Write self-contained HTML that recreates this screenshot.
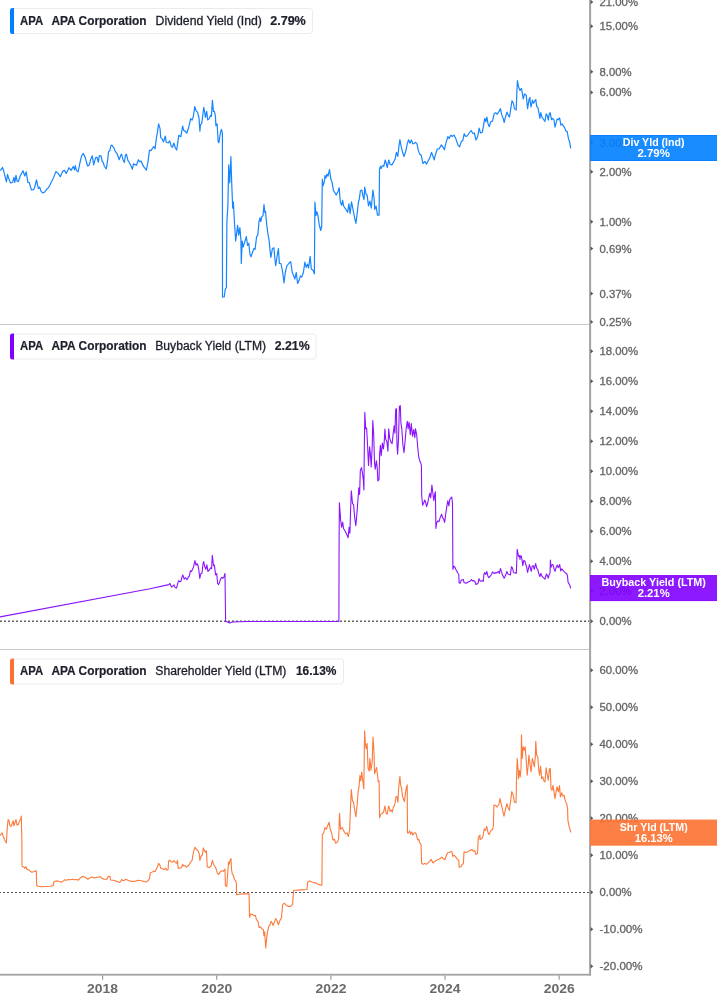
<!DOCTYPE html>
<html lang="en"><head><meta charset="utf-8"><title>APA Corporation yields</title>
<style>
html,body{margin:0;padding:0;background:#fff}
body{width:717px;height:1005px;overflow:hidden}
svg{display:block}
text{font-family:"Liberation Sans",Arial,sans-serif}
.ax{font-size:11px;fill:#666;stroke:#666;stroke-width:.32px}
.yr{font-size:12px;font-weight:bold;fill:#6b6b6b;text-anchor:middle}
.lg{font-size:12px;fill:#1d1f2b}
.m{stroke:#1d1f2b;stroke-width:.3px}
.b{font-weight:bold;stroke:#1d1f2b;stroke-width:.2px}
.tg{font-size:10px;font-weight:bold;fill:#fff;text-anchor:middle}
</style></head><body>
<svg width="717" height="1005" viewBox="0 0 717 1005">
<rect width="717" height="1005" fill="#fff"/>

<rect x="0" y="324" width="589" height="1" fill="#c9c9c9"/>
<rect x="0" y="649" width="589" height="1" fill="#c9c9c9"/>
<line x1="0" y1="621.2" x2="589" y2="621.2" stroke="#606060" stroke-width="1.4" stroke-dasharray="2 2"/>
<line x1="0" y1="892.5" x2="589" y2="892.5" stroke="#505050" stroke-width="1.1" stroke-dasharray="2 2" stroke-dashoffset="1"/>
<path d="M0.0,170.4 L1.1,169.7 L2.5,167.4 L3.9,171.8 L5.3,177.4 L6.4,181.9 L7.5,174.4 L8.6,178.1 L10.5,183.0 L12.6,182.3 L13.9,177.4 L14.8,182.3 L16.0,175.3 L17.0,180.9 L18.4,181.6 L20.2,176.0 L23.0,170.7 L24.8,176.0 L26.2,171.8 L27.9,182.3 L29.3,182.7 L31.4,190.0 L33.5,189.7 L34.9,186.5 L36.5,179.9 L38.4,188.6 L39.7,187.2 L41.1,191.4 L43.0,193.0 L44.6,192.1 L46.7,189.3 L48.8,187.2 L50.9,183.0 L53.7,177.4 L55.8,171.6 L57.9,173.2 L60.3,176.7 L62.8,171.1 L64.4,170.4 L66.2,173.5 L69.0,167.7 L71.1,170.4 L73.2,166.5 L74.6,169.7 L75.3,165.6 L76.4,170.4 L78.1,171.8 L79.8,163.5 L81.6,155.8 L83.4,153.4 L85.1,157.2 L87.6,166.0 L89.3,164.9 L90.7,159.3 L92.3,155.8 L93.7,164.9 L95.5,157.9 L96.9,157.2 L98.3,162.1 L99.3,155.8 L100.0,155.6 L101.1,156.2 L102.1,161.1 L103.5,163.2 L104.2,166.0 L106.3,168.8 L107.7,159.7 L108.6,151.4 L109.8,150.7 L110.9,145.8 L111.9,145.1 L113.9,147.9 L115.3,151.4 L117.4,154.2 L119.2,159.7 L120.9,154.9 L121.6,154.2 L123.0,159.7 L124.4,162.5 L125.5,154.9 L126.5,154.4 L127.9,160.4 L129.3,162.5 L131.0,166.0 L132.4,169.2 L133.5,163.9 L135.1,164.6 L136.5,165.3 L138.4,159.7 L139.7,161.8 L141.1,161.1 L143.2,166.0 L144.9,168.1 L146.4,170.2 L148.1,161.1 L149.5,150.0 L150.9,150.7 L152.3,148.6 L153.7,146.5 L155.1,148.6 L156.5,137.4 L157.5,131.8 L158.6,123.8 L160.0,128.4 L160.7,137.4 L162.1,138.8 L163.5,141.9 L165.3,136.0 L166.2,142.3 L168.3,143.0 L169.7,140.9 L171.4,146.5 L172.5,147.2 L173.9,143.0 L175.3,147.9 L176.7,150.0 L178.1,140.2 L178.8,135.3 L180.9,136.7 L182.6,126.0 L183.7,130.4 L185.1,131.1 L186.8,133.2 L188.6,127.7 L190.7,118.6 L192.1,120.0 L193.2,117.2 L194.8,106.7 L196.2,110.9 L197.6,112.3 L199.0,117.9 L199.9,131.1 L200.5,124.8 L201.8,123.3 L202.8,114.9 L203.8,107.4 L204.8,112.9 L205.4,117.4 L206.7,111.4 L207.7,119.9 L208.9,118.9 L209.9,116.9 L210.7,115.4 L211.4,116.4 L212.4,100.4 L213.4,111.4 L214.4,111.4 L215.4,115.9 L215.9,125.8 L217.1,123.8 L218.1,141.2 L218.9,142.7 L220.4,132.8 L221.4,129.3 L222.4,132.8 L222.5,297.0 L224.2,297.0 L225.2,289.6 L226.4,287.3 L226.9,221.6 L227.9,205.2 L228.7,164.9 L229.7,182.8 L230.9,156.7 L231.6,179.9 L232.7,208.2 L233.4,202.2 L234.6,224.6 L235.7,241.0 L236.6,233.6 L237.6,225.4 L238.7,235.1 L239.9,227.6 L240.9,239.6 L241.3,263.4 L242.2,241.0 L243.1,247.0 L244.6,242.5 L246.3,236.6 L247.6,245.5 L248.8,243.3 L250.0,254.5 L251.0,256.7 L252.5,252.2 L254.0,248.5 L255.1,249.3 L256.6,236.6 L257.8,235.1 L259.0,221.6 L260.0,217.9 L260.7,221.6 L261.9,216.4 L263.0,215.7 L264.0,204.5 L264.9,212.7 L265.5,211.2 L266.7,224.6 L267.9,233.6 L269.0,239.6 L270.0,250.0 L270.9,257.5 L272.4,248.5 L273.9,247.8 L274.9,259.0 L275.7,265.7 L276.9,257.5 L278.4,248.5 L279.4,263.4 L281.0,263.5 L282.7,272.5 L284.0,282.9 L285.3,272.5 L286.8,266.1 L288.8,263.5 L290.7,261.6 L292.3,272.5 L293.9,276.4 L294.8,279.0 L296.3,272.5 L297.6,283.5 L299.1,280.3 L300.4,275.8 L301.7,277.1 L303.4,272.5 L304.9,262.2 L306.2,267.4 L307.5,264.1 L308.6,268.0 L310.1,256.4 L311.4,269.3 L312.9,270.0 L314.4,273.8 L314.9,202.0 L315.9,215.6 L316.8,211.7 L317.9,215.0 L319.2,224.7 L320.7,230.5 L321.7,226.0 L322.3,179.4 L323.0,185.9 L324.3,182.0 L325.0,175.5 L325.9,178.1 L326.9,174.2 L328.0,176.2 L329.5,169.7 L330.8,178.8 L332.1,182.6 L333.4,190.4 L334.7,192.3 L336.2,194.9 L337.9,191.7 L339.2,187.8 L340.0,198.8 L340.6,202.5 L341.7,205.3 L342.7,200.4 L343.6,206.0 L345.5,208.8 L347.6,212.3 L348.9,203.9 L350.1,213.7 L351.5,201.8 L352.9,208.8 L354.5,217.2 L355.9,223.4 L357.3,212.3 L358.4,202.5 L359.4,198.3 L360.4,190.7 L361.8,190.0 L362.9,195.6 L364.0,199.7 L364.7,187.2 L366.0,194.2 L367.1,194.9 L368.5,206.0 L369.9,201.1 L371.3,208.1 L372.9,190.0 L374.1,198.3 L374.7,209.5 L376.1,206.0 L377.5,215.1 L379.1,215.1 L379.5,170.4 L380.3,166.3 L381.3,168.4 L382.4,165.6 L383.8,166.3 L385.2,160.0 L386.3,163.5 L387.3,167.7 L388.7,160.0 L390.1,164.2 L391.9,164.9 L393.6,162.1 L395.0,159.3 L396.4,152.3 L397.8,156.5 L398.9,146.7 L399.9,139.5 L401.2,146.7 L402.6,152.3 L404.0,156.5 L405.9,150.9 L407.2,143.9 L408.6,139.8 L410.0,143.2 L411.4,140.0 L412.8,143.9 L414.2,143.2 L415.6,142.3 L417.0,143.9 L418.4,150.9 L419.8,154.4 L421.2,155.1 L422.9,163.5 L425.0,161.4 L426.4,164.2 L428.2,160.7 L429.8,157.9 L431.5,152.3 L433.3,157.2 L434.3,160.0 L435.0,155.8 L435.3,155.3 L437.3,149.0 L439.1,149.0 L441.2,144.9 L442.8,146.9 L444.4,149.7 L446.0,142.8 L447.9,136.5 L449.2,138.6 L450.9,135.1 L452.3,136.5 L454.0,135.1 L455.8,138.6 L457.9,144.9 L459.6,146.9 L461.4,141.4 L462.8,140.7 L464.2,133.7 L465.6,136.5 L467.4,135.8 L469.1,133.0 L471.1,130.5 L473.0,133.7 L474.4,133.0 L476.0,140.0 L477.7,136.5 L479.1,128.1 L480.5,133.0 L482.3,132.3 L483.7,124.6 L484.7,118.4 L485.8,121.8 L486.9,117.0 L487.9,123.2 L489.3,126.7 L490.7,121.8 L492.5,121.1 L494.2,113.5 L495.6,112.8 L497.2,114.2 L499.0,111.4 L500.4,108.6 L501.8,114.9 L503.2,118.4 L504.2,122.5 L505.3,117.7 L507.0,112.1 L508.4,115.6 L509.5,117.0 L510.9,107.9 L512.0,100.9 L513.4,103.0 L514.4,108.6 L516.2,110.0 L516.8,93.9 L517.4,80.7 L518.6,87.0 L520.0,90.5 L521.4,88.4 L522.3,93.2 L523.2,98.8 L524.6,93.9 L526.2,95.3 L527.6,108.6 L529.0,99.5 L530.0,97.4 L530.1,101.4 L531.1,107.0 L532.4,100.1 L533.6,103.3 L534.5,101.4 L535.8,99.5 L536.7,106.4 L537.9,107.7 L538.9,112.7 L539.9,118.3 L540.8,112.7 L542.0,117.1 L543.3,119.0 L544.9,121.5 L546.2,113.9 L547.4,115.8 L548.3,120.2 L549.3,113.9 L550.2,112.7 L551.5,119.6 L552.7,118.3 L554.0,120.2 L555.0,127.1 L556.2,122.7 L557.1,119.0 L558.4,119.6 L559.6,117.9 L560.9,125.2 L562.1,124.0 L563.4,125.9 L564.6,127.7 L565.9,130.9 L567.2,131.5 L568.4,138.4 L569.7,142.2 L570.7,148.4" fill="none" stroke="#1785ff" stroke-width="1.2" stroke-linejoin="round"/>
<path d="M0.0,616.9 L150.0,588.8 L168.8,584.6 L169.9,583.5 L171.6,587.1 L173.0,586.0 L174.0,584.9 L175.1,587.4 L176.5,588.1 L177.6,583.9 L178.6,580.7 L180.0,581.8 L181.0,581.1 L181.8,577.7 L182.8,574.9 L184.2,579.1 L185.6,577.7 L187.0,579.7 L188.4,577.0 L189.3,576.3 L190.4,570.7 L191.6,571.4 L192.5,569.3 L193.5,567.2 L194.9,560.6 L196.0,565.1 L197.1,563.7 L198.1,565.8 L199.1,572.1 L199.8,578.4 L200.9,573.5 L202.0,573.2 L203.0,563.7 L203.7,561.6 L204.7,566.5 L205.8,569.3 L206.9,564.8 L207.9,571.4 L209.3,570.0 L210.7,567.9 L211.6,568.6 L212.3,555.3 L213.5,565.8 L214.4,565.1 L215.6,574.9 L216.7,573.5 L217.6,583.2 L218.6,584.6 L219.7,581.8 L220.9,578.4 L221.8,577.4 L222.8,578.4 L223.9,577.0 L225.0,573.5 L225.6,621.2 L227.4,622.0 L229.8,623.1 L232.3,622.0 L239.3,621.7 L250.0,621.5 L338.9,621.5 L339.1,540.0 L339.4,502.7 L340.6,519.9 L341.6,527.3 L342.7,522.1 L343.6,528.8 L345.1,531.0 L346.6,534.0 L348.1,537.8 L349.1,527.3 L349.9,533.3 L350.6,509.4 L351.3,490.7 L352.5,503.4 L353.6,504.9 L354.6,516.9 L355.8,525.8 L357.0,512.4 L358.1,497.5 L358.8,487.8 L359.6,494.5 L360.3,470.6 L361.5,467.6 L362.5,473.6 L363.3,479.6 L363.9,490.0 L364.3,449.7 L364.8,412.4 L365.7,428.8 L366.6,428.1 L367.5,443.7 L368.5,465.4 L369.6,446.7 L370.4,454.2 L371.2,466.9 L372.2,446.7 L372.8,420.6 L373.7,434.8 L374.5,461.6 L375.2,469.1 L376.4,460.9 L377.2,467.6 L377.9,481.0 L379.0,479.6 L379.7,452.7 L380.4,445.2 L381.2,455.7 L382.4,443.0 L383.4,449.0 L384.2,442.2 L384.9,429.1 L385.7,439.3 L386.9,441.5 L387.9,451.2 L388.7,428.8 L389.6,437.8 L390.9,442.2 L392.1,443.7 L393.1,434.0 L394.2,425.8 L394.9,433.3 L395.7,409.4 L396.4,408.7 L397.0,445.2 L397.6,454.2 L398.5,439.3 L399.4,406.4 L400.3,405.7 L400.9,422.8 L401.8,428.8 L402.8,443.7 L404.0,452.7 L405.1,440.7 L406.3,427.3 L407.3,421.3 L408.1,428.8 L409.1,422.1 L410.3,434.8 L411.3,423.6 L412.5,436.3 L413.7,429.6 L414.8,437.8 L415.5,428.8 L416.7,434.8 L417.8,448.2 L418.8,457.2 L420.0,461.6 L420.7,462.7 L421.4,465.7 L421.7,495.5 L422.6,505.2 L423.7,503.0 L424.7,500.0 L425.6,502.2 L426.6,506.7 L427.7,503.0 L428.9,497.0 L429.8,493.3 L430.7,497.8 L431.9,485.1 L432.8,492.5 L433.8,500.7 L434.9,493.3 L435.4,491.8 L435.9,528.4 L436.6,523.1 L437.8,520.9 L439.0,521.6 L440.1,517.9 L441.6,514.2 L442.6,517.9 L443.5,518.7 L444.6,522.4 L445.6,514.9 L446.8,506.7 L447.8,500.7 L448.9,506.0 L449.8,499.3 L451.0,497.8 L451.7,497.0 L452.5,503.0 L452.9,569.3 L453.9,566.2 L454.9,567.2 L456.0,569.8 L457.0,571.4 L458.1,573.5 L458.8,574.5 L459.1,582.9 L460.2,583.1 L461.2,580.3 L462.3,579.7 L463.3,579.5 L464.0,582.4 L465.4,583.1 L467.0,582.9 L468.5,581.8 L470.1,581.3 L471.4,579.5 L472.4,581.0 L473.8,580.6 L474.8,581.3 L475.9,584.5 L476.9,583.9 L477.9,583.7 L479.0,578.7 L480.0,580.8 L481.1,581.3 L482.4,580.6 L483.2,581.3 L483.9,574.5 L484.7,572.6 L485.8,574.5 L486.8,571.4 L487.9,576.1 L488.9,577.7 L490.2,576.1 L491.5,574.5 L492.6,571.9 L494.0,573.5 L495.2,572.6 L496.8,572.9 L498.3,571.4 L499.4,573.5 L500.4,568.5 L501.5,571.9 L502.7,575.6 L504.1,578.2 L505.5,575.6 L506.9,571.4 L508.0,574.0 L509.3,574.5 L510.4,575.0 L511.4,566.7 L512.5,568.2 L513.5,572.4 L514.9,572.9 L516.3,573.3 L516.8,560.9 L517.2,549.4 L518.0,553.6 L518.7,556.7 L519.5,555.7 L520.0,559.4 L520.5,555.7 L521.3,556.2 L522.0,559.9 L522.8,565.6 L523.8,560.4 L524.9,560.9 L525.7,564.6 L526.5,566.2 L527.6,572.4 L528.6,568.2 L529.4,564.6 L530.4,568.2 L531.2,571.4 L532.2,566.2 L533.2,565.6 L534.3,569.3 L535.6,563.5 L536.7,568.2 L537.7,569.3 L538.8,573.5 L539.8,576.6 L540.9,573.5 L541.9,576.1 L543.3,577.7 L545.0,579.2 L546.4,574.0 L547.4,575.6 L548.2,578.2 L549.2,574.5 L550.0,573.5 L550.4,560.1 L551.0,567.2 L551.8,565.1 L552.9,564.6 L553.9,568.2 L555.0,571.4 L556.2,567.2 L557.3,565.1 L558.3,567.7 L559.7,564.6 L560.7,570.9 L561.8,568.8 L563.1,570.3 L564.4,571.9 L565.4,572.9 L566.7,573.5 L567.5,576.1 L568.1,582.4 L569.1,583.9 L570.1,586.0 L570.7,588.3" fill="none" stroke="#8a14ff" stroke-width="1.1" stroke-linejoin="round"/>
<path d="M0.0,835.6 L1.1,834.2 L2.1,832.8 L3.5,837.0 L4.9,840.4 L6.3,843.0 L7.3,827.9 L8.1,819.5 L9.1,820.9 L10.0,825.8 L11.2,826.2 L12.3,823.0 L13.2,820.9 L13.9,825.8 L15.1,822.3 L16.0,819.5 L17.0,825.1 L18.4,824.4 L19.5,820.9 L20.6,819.5 L21.3,816.0 L21.9,841.8 L22.0,866.2 L23.7,866.9 L24.8,868.3 L25.8,866.7 L27.2,869.7 L28.6,869.5 L30.0,871.1 L31.8,872.2 L33.5,871.8 L34.9,871.1 L36.3,870.9 L36.7,885.4 L38.4,886.2 L41.8,886.8 L46.0,886.5 L50.2,886.2 L53.3,885.4 L53.7,882.3 L55.1,881.2 L57.2,880.9 L59.3,881.6 L61.4,882.3 L63.5,880.9 L64.4,879.8 L66.2,880.3 L68.3,879.5 L70.4,879.8 L72.5,879.2 L74.6,879.8 L76.7,879.5 L78.4,880.2 L80.2,878.1 L82.0,876.7 L83.7,876.4 L85.8,877.8 L87.9,879.2 L90.0,877.8 L92.1,877.0 L94.1,878.1 L96.2,877.4 L98.3,877.0 L100.0,876.7 L100.1,876.5 L102.1,878.3 L104.2,879.3 L107.0,879.3 L108.1,876.5 L110.0,876.2 L110.6,880.0 L113.2,880.3 L116.0,881.1 L119.5,882.5 L120.9,881.4 L121.6,879.3 L123.0,880.7 L124.4,880.3 L125.8,879.3 L127.9,880.3 L130.0,881.1 L132.8,881.4 L135.6,881.1 L138.4,880.3 L141.1,880.7 L143.9,881.4 L146.0,882.1 L148.1,880.7 L149.5,878.6 L150.2,872.7 L152.3,871.9 L153.7,871.3 L155.1,871.6 L156.5,868.8 L157.5,866.7 L158.6,863.5 L159.7,864.6 L160.7,868.1 L162.5,868.8 L164.2,869.5 L165.6,868.1 L166.7,870.2 L168.1,869.5 L168.6,861.1 L169.7,860.2 L171.1,861.8 L172.5,862.1 L173.9,860.7 L175.3,862.5 L176.7,863.2 L177.5,860.4 L178.1,868.1 L180.2,868.1 L181.6,867.4 L182.6,864.4 L183.7,866.0 L185.1,865.7 L186.5,867.1 L187.9,866.0 L189.3,864.6 L190.7,861.8 L192.1,860.4 L193.2,853.5 L194.1,849.6 L195.1,847.2 L196.2,849.3 L197.4,850.0 L198.3,851.4 L199.3,854.2 L199.9,860.4 L199.9,860.0 L200.9,856.5 L202.3,855.1 L203.4,847.9 L204.5,850.9 L205.5,852.3 L206.4,850.9 L207.3,867.0 L208.9,867.4 L211.0,866.3 L212.4,860.4 L213.4,864.2 L214.8,866.3 L216.2,869.1 L217.3,873.2 L218.7,874.4 L220.4,871.8 L222.2,870.7 L223.6,871.1 L225.0,869.1 L225.4,885.8 L226.8,886.5 L227.8,871.8 L228.5,862.1 L229.3,864.2 L230.1,860.0 L231.0,858.6 L231.5,869.1 L232.4,874.6 L233.4,875.3 L234.3,878.8 L235.4,880.9 L236.3,882.3 L236.6,894.4 L239.6,894.2 L243.8,893.9 L249.1,893.9 L249.5,917.2 L250.8,914.0 L252.5,914.4 L253.9,915.8 L255.3,915.4 L256.4,919.3 L258.0,921.4 L259.2,927.6 L260.6,926.9 L261.9,929.0 L263.3,929.3 L264.0,936.0 L264.7,931.8 L265.7,947.9 L266.8,937.4 L267.8,930.4 L268.9,926.2 L270.0,924.8 L271.0,921.4 L272.4,923.4 L273.1,925.5 L274.5,922.1 L275.6,918.6 L277.0,920.7 L278.4,924.8 L279.8,920.7 L281.5,917.9 L282.6,904.6 L284.3,903.2 L286.4,905.3 L288.4,906.4 L290.5,906.4 L292.6,904.6 L293.5,890.7 L295.0,890.3 L295.4,890.3 L300.8,889.9 L307.0,889.5 L307.6,882.2 L309.7,880.9 L312.4,882.2 L316.0,883.1 L319.6,884.9 L321.9,885.2 L322.3,834.7 L323.7,832.9 L324.9,827.5 L326.4,829.3 L327.6,825.7 L329.1,822.2 L330.3,829.3 L331.6,832.9 L333.0,840.1 L334.4,839.2 L335.7,843.3 L337.5,841.9 L338.7,838.3 L339.5,813.2 L340.5,829.3 L342.3,827.5 L343.8,831.1 L345.6,833.8 L347.0,832.9 L348.4,836.5 L349.7,829.3 L350.4,809.6 L351.3,789.5 L352.4,800.6 L353.6,802.4 L354.9,811.4 L355.9,816.8 L357.2,804.2 L358.1,791.7 L359.0,787.2 L359.9,775.6 L360.8,780.9 L361.7,772.0 L362.8,780.9 L363.8,789.0 L364.6,730.8 L365.3,743.3 L366.2,748.7 L367.1,743.3 L368.1,768.4 L369.2,771.1 L369.9,758.5 L371.0,770.2 L372.1,763.0 L373.0,737.0 L373.9,750.5 L374.6,773.8 L375.7,770.2 L376.6,767.5 L377.5,774.7 L378.2,781.8 L379.1,780.9 L379.6,817.7 L381.0,814.1 L382.3,813.2 L383.5,812.3 L385.0,806.0 L386.1,813.2 L387.3,814.1 L388.6,806.0 L390.0,809.6 L390.0,811.4 L391.2,810.0 L392.3,812.1 L393.2,807.9 L394.2,805.8 L395.3,802.3 L396.0,796.7 L397.0,796.5 L397.9,802.3 L398.4,791.2 L399.2,782.8 L399.9,776.2 L400.6,784.9 L401.6,788.4 L402.6,796.7 L403.4,798.8 L404.4,801.6 L405.4,793.9 L406.2,788.4 L407.2,784.9 L407.5,833.0 L408.6,832.7 L409.6,830.9 L410.7,834.4 L411.8,831.9 L412.8,835.1 L414.2,833.0 L415.6,832.7 L416.5,835.1 L417.7,840.0 L418.8,839.3 L419.7,842.8 L421.1,844.4 L421.6,863.0 L423.2,864.4 L424.6,863.4 L426.3,864.4 L428.1,863.0 L429.9,860.9 L431.3,859.5 L433.0,863.0 L434.7,861.6 L436.5,860.2 L438.3,859.5 L440.0,858.8 L441.6,857.0 L443.5,858.8 L444.9,859.8 L446.2,856.0 L447.6,852.8 L449.5,852.5 L451.1,851.4 L452.2,852.5 L452.8,856.4 L454.2,855.3 L456.0,857.4 L457.4,859.5 L458.8,860.2 L459.2,867.2 L460.9,866.8 L462.3,864.4 L463.4,863.7 L464.0,851.8 L465.8,852.5 L467.9,851.8 L470.0,850.4 L471.8,849.5 L473.4,851.1 L474.8,850.9 L476.0,854.6 L477.6,853.2 L478.2,838.6 L479.3,835.8 L480.0,835.1 L480.0,839.6 L481.7,838.8 L483.1,835.5 L484.2,828.8 L485.4,830.4 L486.7,826.3 L488.1,832.9 L489.2,834.6 L490.9,830.4 L492.6,829.6 L493.4,825.4 L493.9,805.0 L495.4,805.3 L497.1,807.0 L498.8,804.5 L500.1,798.6 L501.5,805.3 L502.6,810.4 L504.0,816.2 L505.1,811.2 L506.8,803.7 L508.2,807.8 L509.3,810.4 L510.5,802.0 L511.8,791.6 L513.2,795.3 L514.4,802.0 L516.0,802.8 L516.5,780.2 L517.2,758.5 L518.0,768.5 L518.5,778.6 L519.4,770.2 L520.2,776.9 L521.0,768.5 L521.5,734.7 L522.2,758.5 L523.2,746.8 L524.4,750.1 L525.2,746.8 L526.1,758.5 L527.2,775.2 L528.2,765.2 L528.9,755.1 L529.9,763.5 L531.1,771.9 L532.3,758.5 L533.3,761.8 L534.4,766.8 L535.3,756.8 L535.8,741.4 L536.6,755.1 L537.8,756.8 L538.6,768.5 L539.5,775.2 L540.6,766.0 L541.6,778.6 L542.8,776.9 L544.0,781.1 L545.0,781.9 L546.2,767.7 L547.0,773.5 L548.3,780.2 L549.5,768.8 L550.3,768.5 L551.0,788.6 L552.0,790.3 L553.0,785.3 L554.0,791.9 L555.0,798.6 L556.2,791.1 L557.0,786.9 L558.4,791.9 L559.5,785.6 L560.4,797.0 L561.7,792.8 L562.9,796.1 L564.1,795.3 L565.4,801.2 L566.7,803.7 L567.6,808.7 L567.9,820.4 L569.1,826.3 L570.1,829.6 L570.8,832.4" fill="none" stroke="#fb7a3c" stroke-width="1.1" stroke-linejoin="round"/>
<rect x="589.1" y="0" width="2" height="975.6" fill="#a3a3a3"/>
<rect x="0" y="973.8" width="591" height="1.8" fill="#a3a3a3"/>
<rect x="102.0" y="975.5" width="1.2" height="4.2" fill="#999"/>
<text class="yr" x="102.6" y="992.7" textLength="31" lengthAdjust="spacingAndGlyphs">2018</text>
<rect x="216.1" y="975.5" width="1.2" height="4.2" fill="#999"/>
<text class="yr" x="216.7" y="992.7" textLength="31" lengthAdjust="spacingAndGlyphs">2020</text>
<rect x="330.3" y="975.5" width="1.2" height="4.2" fill="#999"/>
<text class="yr" x="330.9" y="992.7" textLength="31" lengthAdjust="spacingAndGlyphs">2022</text>
<rect x="444.4" y="975.5" width="1.2" height="4.2" fill="#999"/>
<text class="yr" x="445.0" y="992.7" textLength="31" lengthAdjust="spacingAndGlyphs">2024</text>
<rect x="558.6" y="975.5" width="1.2" height="4.2" fill="#999"/>
<text class="yr" x="559.2" y="992.7" textLength="31" lengthAdjust="spacingAndGlyphs">2026</text>
<path d="M590.6,-0.2 l2.7,2.2 l-2.7,2.2z" fill="#555"/>
<text class="ax" x="599.5" y="6.0" textLength="38.5" lengthAdjust="spacingAndGlyphs">21.00%</text>
<path d="M590.6,24.1 l2.7,2.2 l-2.7,2.2z" fill="#555"/>
<text class="ax" x="599.5" y="30.3" textLength="38.5" lengthAdjust="spacingAndGlyphs">15.00%</text>
<path d="M590.6,69.5 l2.7,2.2 l-2.7,2.2z" fill="#555"/>
<text class="ax" x="599.5" y="75.7" textLength="32.1" lengthAdjust="spacingAndGlyphs">8.00%</text>
<path d="M590.6,90.2 l2.7,2.2 l-2.7,2.2z" fill="#555"/>
<text class="ax" x="599.5" y="96.4" textLength="32.1" lengthAdjust="spacingAndGlyphs">6.00%</text>
<path d="M590.6,140.3 l2.7,2.2 l-2.7,2.2z" fill="#555"/>
<text class="ax" x="599.5" y="146.5" textLength="32.1" lengthAdjust="spacingAndGlyphs">3.00%</text>
<path d="M590.6,169.6 l2.7,2.2 l-2.7,2.2z" fill="#555"/>
<text class="ax" x="599.5" y="175.8" textLength="32.1" lengthAdjust="spacingAndGlyphs">2.00%</text>
<path d="M590.6,219.6 l2.7,2.2 l-2.7,2.2z" fill="#555"/>
<text class="ax" x="599.5" y="225.8" textLength="32.1" lengthAdjust="spacingAndGlyphs">1.00%</text>
<path d="M590.6,246.4 l2.7,2.2 l-2.7,2.2z" fill="#555"/>
<text class="ax" x="599.5" y="252.6" textLength="32.1" lengthAdjust="spacingAndGlyphs">0.69%</text>
<path d="M590.6,291.4 l2.7,2.2 l-2.7,2.2z" fill="#555"/>
<text class="ax" x="599.5" y="297.6" textLength="32.1" lengthAdjust="spacingAndGlyphs">0.37%</text>
<path d="M590.6,319.7 l2.7,2.2 l-2.7,2.2z" fill="#555"/>
<text class="ax" x="599.5" y="325.9" textLength="32.1" lengthAdjust="spacingAndGlyphs">0.25%</text>
<path d="M590.6,619.1 l2.7,2.2 l-2.7,2.2z" fill="#555"/>
<text class="ax" x="599.5" y="625.3" textLength="32.1" lengthAdjust="spacingAndGlyphs">0.00%</text>
<path d="M590.6,589.1 l2.7,2.2 l-2.7,2.2z" fill="#555"/>
<text class="ax" x="599.5" y="595.3" textLength="32.1" lengthAdjust="spacingAndGlyphs">2.00%</text>
<path d="M590.6,559.1 l2.7,2.2 l-2.7,2.2z" fill="#555"/>
<text class="ax" x="599.5" y="565.3" textLength="32.1" lengthAdjust="spacingAndGlyphs">4.00%</text>
<path d="M590.6,529.1 l2.7,2.2 l-2.7,2.2z" fill="#555"/>
<text class="ax" x="599.5" y="535.3" textLength="32.1" lengthAdjust="spacingAndGlyphs">6.00%</text>
<path d="M590.6,499.1 l2.7,2.2 l-2.7,2.2z" fill="#555"/>
<text class="ax" x="599.5" y="505.3" textLength="32.1" lengthAdjust="spacingAndGlyphs">8.00%</text>
<path d="M590.6,469.1 l2.7,2.2 l-2.7,2.2z" fill="#555"/>
<text class="ax" x="599.5" y="475.3" textLength="38.5" lengthAdjust="spacingAndGlyphs">10.00%</text>
<path d="M590.6,439.1 l2.7,2.2 l-2.7,2.2z" fill="#555"/>
<text class="ax" x="599.5" y="445.3" textLength="38.5" lengthAdjust="spacingAndGlyphs">12.00%</text>
<path d="M590.6,409.1 l2.7,2.2 l-2.7,2.2z" fill="#555"/>
<text class="ax" x="599.5" y="415.3" textLength="38.5" lengthAdjust="spacingAndGlyphs">14.00%</text>
<path d="M590.6,379.1 l2.7,2.2 l-2.7,2.2z" fill="#555"/>
<text class="ax" x="599.5" y="385.3" textLength="38.5" lengthAdjust="spacingAndGlyphs">16.00%</text>
<path d="M590.6,349.1 l2.7,2.2 l-2.7,2.2z" fill="#555"/>
<text class="ax" x="599.5" y="355.3" textLength="38.5" lengthAdjust="spacingAndGlyphs">18.00%</text>
<path d="M590.6,964.0 l2.7,2.2 l-2.7,2.2z" fill="#555"/>
<text class="ax" x="599.5" y="970.2" textLength="43.1" lengthAdjust="spacingAndGlyphs">-20.00%</text>
<path d="M590.6,927.0 l2.7,2.2 l-2.7,2.2z" fill="#555"/>
<text class="ax" x="599.5" y="933.2" textLength="43.1" lengthAdjust="spacingAndGlyphs">-10.00%</text>
<path d="M590.6,890.0 l2.7,2.2 l-2.7,2.2z" fill="#555"/>
<text class="ax" x="599.5" y="896.2" textLength="32.1" lengthAdjust="spacingAndGlyphs">0.00%</text>
<path d="M590.6,853.0 l2.7,2.2 l-2.7,2.2z" fill="#555"/>
<text class="ax" x="599.5" y="859.2" textLength="38.5" lengthAdjust="spacingAndGlyphs">10.00%</text>
<path d="M590.6,816.0 l2.7,2.2 l-2.7,2.2z" fill="#555"/>
<text class="ax" x="599.5" y="822.2" textLength="38.5" lengthAdjust="spacingAndGlyphs">20.00%</text>
<path d="M590.6,779.0 l2.7,2.2 l-2.7,2.2z" fill="#555"/>
<text class="ax" x="599.5" y="785.2" textLength="38.5" lengthAdjust="spacingAndGlyphs">30.00%</text>
<path d="M590.6,742.0 l2.7,2.2 l-2.7,2.2z" fill="#555"/>
<text class="ax" x="599.5" y="748.2" textLength="38.5" lengthAdjust="spacingAndGlyphs">40.00%</text>
<path d="M590.6,705.0 l2.7,2.2 l-2.7,2.2z" fill="#555"/>
<text class="ax" x="599.5" y="711.2" textLength="38.5" lengthAdjust="spacingAndGlyphs">50.00%</text>
<path d="M590.6,668.0 l2.7,2.2 l-2.7,2.2z" fill="#555"/>
<text class="ax" x="599.5" y="674.2" textLength="38.5" lengthAdjust="spacingAndGlyphs">60.00%</text>
<rect x="590.5" y="135.5" width="130" height="25" fill="rgba(0,127,255,.9)" stroke="#0a80ff" stroke-width="1"/>
<text class="tg" x="653.7" y="146.0" textLength="61.7" lengthAdjust="spacingAndGlyphs">Div Yld (Ind)</text>
<text class="tg" x="653.7" y="157.0" textLength="32.5" lengthAdjust="spacingAndGlyphs">2.79%</text>
<rect x="590.5" y="575.6" width="130" height="25" fill="rgba(128,0,255,.9)" stroke="#8408ff" stroke-width="1"/>
<text class="tg" x="653.7" y="586.1" textLength="104.5" lengthAdjust="spacingAndGlyphs">Buyback Yield (LTM)</text>
<text class="tg" x="653.7" y="597.1" textLength="32.0" lengthAdjust="spacingAndGlyphs">2.21%</text>
<rect x="590.5" y="820.1" width="130" height="25" fill="rgba(252,114,50,.9)" stroke="#fc7838" stroke-width="1"/>
<text class="tg" x="653.7" y="830.6" textLength="68.0" lengthAdjust="spacingAndGlyphs">Shr Yld (LTM)</text>
<text class="tg" x="653.7" y="841.6" textLength="38.0" lengthAdjust="spacingAndGlyphs">16.13%</text>
<rect x="10.5" y="8.5" width="302.0" height="25" rx="3" fill="#fff" stroke="#ebebef" stroke-width="1"/>
<path d="M14,8.0 h-1.5 a2.5,2.5 0 0 0 -2.5,2.5 v21 a2.5,2.5 0 0 0 2.5,2.5 h1.5z" fill="#007fff"/>
<text class="lg b" x="20.1" y="24.7" textLength="23.1" lengthAdjust="spacingAndGlyphs">APA</text>
<text class="lg b" x="51.5" y="24.7" textLength="95" lengthAdjust="spacingAndGlyphs">APA Corporation</text>
<text class="lg m" x="155.6" y="24.7" textLength="106.3" lengthAdjust="spacingAndGlyphs">Dividend Yield (Ind)</text>
<text class="lg b" x="270.2" y="24.7" textLength="35.6" lengthAdjust="spacingAndGlyphs">2.79%</text>
<rect x="10.5" y="334.0" width="305.6" height="25" rx="3" fill="#fff" stroke="#ebebef" stroke-width="1"/>
<path d="M14,333.5 h-1.5 a2.5,2.5 0 0 0 -2.5,2.5 v21 a2.5,2.5 0 0 0 2.5,2.5 h1.5z" fill="#8000ff"/>
<text class="lg b" x="20.1" y="350.2" textLength="23.1" lengthAdjust="spacingAndGlyphs">APA</text>
<text class="lg b" x="51.5" y="350.2" textLength="95" lengthAdjust="spacingAndGlyphs">APA Corporation</text>
<text class="lg m" x="155.3" y="350.2" textLength="110.8" lengthAdjust="spacingAndGlyphs">Buyback Yield (LTM)</text>
<text class="lg b" x="274.7" y="350.2" textLength="34.9" lengthAdjust="spacingAndGlyphs">2.21%</text>
<rect x="10.5" y="659.0" width="333.0" height="25" rx="3" fill="#fff" stroke="#ebebef" stroke-width="1"/>
<path d="M14,658.5 h-1.5 a2.5,2.5 0 0 0 -2.5,2.5 v21 a2.5,2.5 0 0 0 2.5,2.5 h1.5z" fill="#fc7232"/>
<text class="lg b" x="20.1" y="675.2" textLength="23.1" lengthAdjust="spacingAndGlyphs">APA</text>
<text class="lg b" x="51.5" y="675.2" textLength="95" lengthAdjust="spacingAndGlyphs">APA Corporation</text>
<text class="lg m" x="155.3" y="675.2" textLength="131.1" lengthAdjust="spacingAndGlyphs">Shareholder Yield (LTM)</text>
<text class="lg b" x="295.9" y="675.2" textLength="40.5" lengthAdjust="spacingAndGlyphs">16.13%</text>
</svg></body></html>
